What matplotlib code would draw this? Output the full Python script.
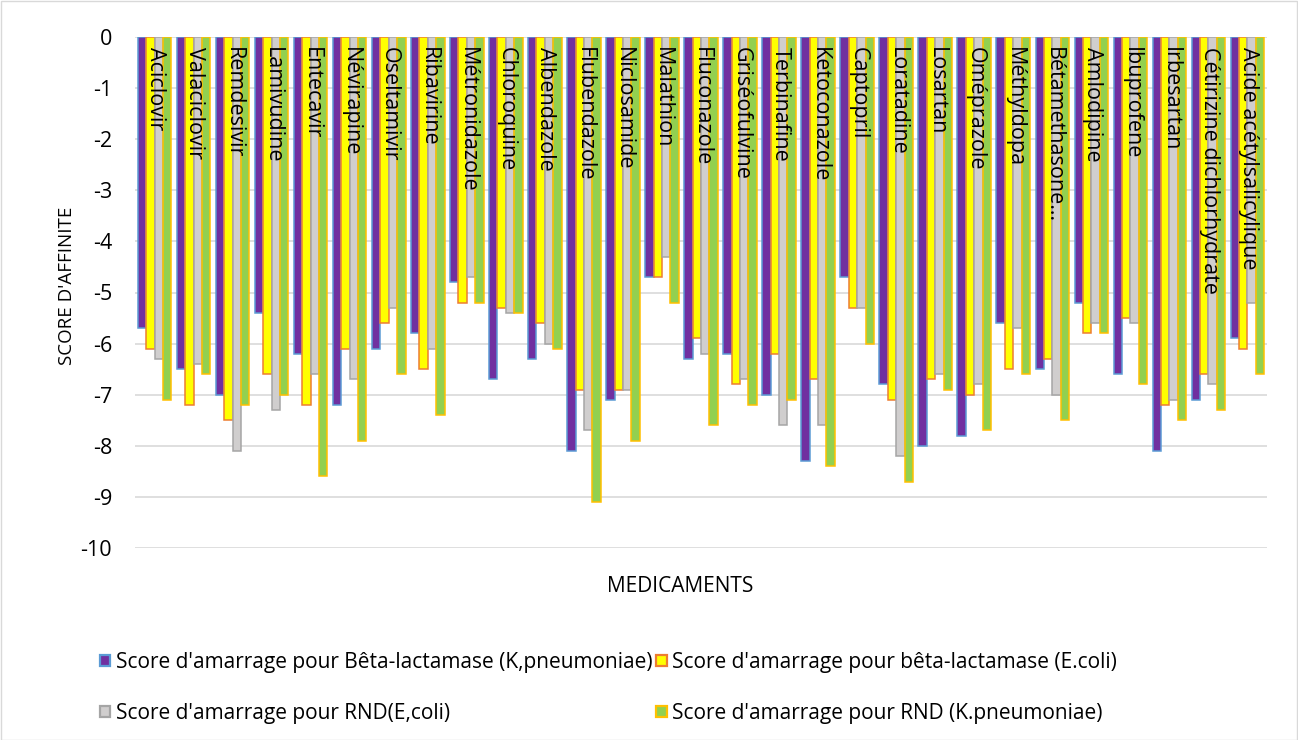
import numpy as np
import matplotlib
matplotlib.use("Agg")
import matplotlib.pyplot as plt
from matplotlib.patches import Rectangle, Patch

plt.rcParams['font.family'] = ['Open Sans', 'DejaVu Sans']

medicaments = [
    "Aciclovir", "Valaciclovir", "Remdesivir", "Lamivudine", "Entecavir",
    "Névirapine", "Oseltamivir", "Ribavirine", "Métronidazole", "Chloroquine",
    "Albendazole", "Flubendazole", "Niclosamide", "Malathion", "Fluconazole",
    "Griséofulvine", "Terbinafine", "Ketoconazole", "Captopril", "Loratadine",
    "Losartan", "Oméprazole", "Méthyldopa", "Bétamethasone…", "Amlodipine",
    "Ibuprofene", "Irbesartan", "Cétirizine dichlorhydrate", "Acide acétylsalicylique",
]

bl_kpneumoniae = [-5.7, -6.5, -7.0, -5.4, -6.2, -7.2, -6.1, -5.8, -4.8, -6.7,
                  -6.3, -8.1, -7.1, -4.7, -6.3, -6.2, -7.0, -8.3, -4.7, -6.8,
                  -8.0, -7.8, -5.6, -6.5, -5.2, -6.6, -8.1, -7.1, -5.9]
bl_ecoli = [-6.1, -7.2, -7.5, -6.6, -7.2, -6.1, -5.6, -6.5, -5.2, -5.3,
            -5.6, -6.9, -6.9, -4.7, -5.9, -6.8, -6.2, -6.7, -5.3, -7.1,
            -6.7, -7.0, -6.5, -6.3, -5.8, -5.5, -7.2, -6.6, -6.1]
rnd_ecoli = [-6.3, -6.4, -8.1, -7.3, -6.6, -6.7, -5.3, -6.1, -4.7, -5.4,
             -6.0, -7.7, -6.9, -4.3, -6.2, -6.7, -7.6, -7.6, -5.3, -8.2,
             -6.6, -6.8, -5.7, -7.0, -5.6, -5.6, -7.1, -6.8, -5.2]
rnd_kpneumoniae = [-7.1, -6.6, -7.2, -7.0, -8.6, -7.9, -6.6, -7.4, -5.2, -5.4,
                   -6.1, -9.1, -7.9, -5.2, -7.6, -7.2, -7.1, -8.4, -6.0, -8.7,
                   -6.9, -7.7, -6.6, -7.5, -5.8, -6.8, -7.5, -7.3, -6.6]

series_labels = [
    "Score d'amarrage pour Bêta-lactamase (K,pneumoniae)",
    "Score d'amarrage pour bêta-lactamase (E.coli)",
    "Score d'amarrage pour RND(E,coli)",
    "Score d'amarrage pour RND (K.pneumoniae)",
]
y_ticks = [0, -1, -2, -3, -4, -5, -6, -7, -8, -9, -10]

face_colors = ["#7030A0", "#FFFF00", "#D0CECE", "#92D050"]
edge_colors = ["#5B9BD5", "#ED7D31", "#A5A5A5", "#FFC000"]

W, H = 1298, 740
fig = plt.figure(figsize=(W / 100, H / 100), dpi=100)
ax = fig.add_axes([135 / W, 1 - 548 / H, (1267 - 135) / W, (548 - 37) / H])

n = len(medicaments)
x = np.arange(n)
bw = 0.215
series = [bl_kpneumoniae, bl_ecoli, rnd_ecoli, rnd_kpneumoniae]
for i, vals in enumerate(series):
    ax.bar(x + (i - 1.5) * bw, vals, width=bw, color=face_colors[i],
           edgecolor=edge_colors[i], linewidth=1.1, zorder=3,
           label=series_labels[i])

ax.set_xlim(-0.5, n - 0.5)
ax.set_ylim(-10, 0)
ax.set_yticks(y_ticks)
ax.set_yticklabels([str(v) for v in y_ticks], fontsize=15.5)
ax.tick_params(axis='y', length=0, pad=16.5)
ax.set_xticks([])
ax.grid(axis='y', color="#D9D9D9", linewidth=1.2, zorder=0)
for s in ax.spines.values():
    s.set_visible(False)

for xi, name in zip(x, medicaments):
    ax.text(xi + 0.02, -0.2, name, rotation=-90, ha='center', va='top',
            fontsize=15.5, color="#000000", zorder=5)

fig.text(67 / W, 1 - 286 / H, "SCORE D'AFFINITE", rotation=90,
         ha='center', va='center', fontsize=13.5)
fig.text(680 / W, 1 - 587 / H, "MEDICAMENTS", ha='center', va='center',
         fontsize=15)

# square legend keys with coloured borders
legend_keys = [Patch(facecolor=face_colors[k], edgecolor=edge_colors[k],
                     linewidth=1.6) for k in range(4)]
order = [0, 2, 1, 3]
fig.legend([legend_keys[k] for k in order], [series_labels[k] for k in order],
           ncol=2, loc='upper left', bbox_to_anchor=(100 / W, 1 - 652 / H),
           frameon=False, fontsize=15, handlelength=0.5, handleheight=0.45,
           handletextpad=0.25, columnspacing=0.2, labelspacing=1.45,
           borderaxespad=0, borderpad=0)

fig.patches.append(Rectangle((0.5 / W, 0.5 / H), 1 - 1.5 / W, 1 - 1.5 / H,
                             transform=fig.transFigure, fill=False,
                             edgecolor="#D9D9D9", linewidth=1.0))

fig.savefig("out.png", dpi=100)
